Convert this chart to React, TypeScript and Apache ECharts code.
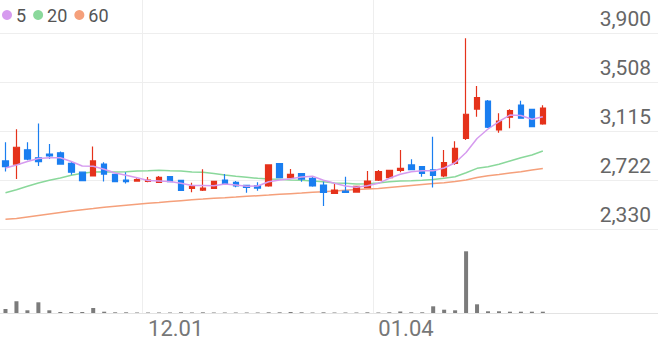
import React, { useEffect, useRef } from "react";
import * as echarts from "echarts";

// ---- data ----
const dates = [
  "11.14","11.15","11.16","11.17","11.20","11.21","11.22","11.23","11.24","11.27",
  "11.28","11.29","11.30","12.01","12.04","12.05","12.06","12.07","12.08","12.11",
  "12.12","12.13","12.14","12.15","12.18","12.19","12.20","12.21","12.22","12.26",
  "12.27","12.28","01.02","01.03","01.04","01.05","01.08","01.09","01.10","01.11",
  "01.12","01.15","01.16","01.17","01.18","01.19","01.22","01.23","01.24","01.25",
];
const emptySlots = 10;
const labeledDates = ["12.01", "01.04"];

const opens = [2875,2850,2965,2900,2930,2940,2855,2785,2755,2850,2768,2722,2714,2712,2704,2749,2720,2656,2642,2656,2722,2704,2680,2677,2675,2853,2741,2773,2736,2682,2616,2634,2626,2661,2722,2741,2800,2843,2829,2803,2755,2856,3056,3291,3355,3123,3225,3323,3289,3171];
const closes = [2830,2985,2890,2870,2915,2850,2785,2717,2875,2770,2709,2710,2725,2722,2744,2709,2640,2672,2658,2712,2690,2675,2664,2658,2843,2741,2768,2730,2675,2624,2642,2624,2672,2714,2789,2800,2816,2805,2776,2759,2861,2976,3249,3382,3145,3195,3278,3217,3150,3299];
const lows = [2790,2730,2880,2835,2890,2845,2765,2715,2750,2710,2705,2695,2709,2704,2700,2704,2634,2624,2634,2650,2685,2664,2621,2637,2669,2736,2740,2709,2669,2514,2613,2622,2620,2656,2714,2730,2784,2800,2749,2662,2744,2845,3043,3230,3139,3101,3137,3213,3145,3165];
const highs = [3025,3130,3025,3175,3010,2950,2870,2790,2990,2865,2770,2785,2736,2746,2755,2754,2725,2700,2808,2717,2770,2714,2681,2704,2845,2855,2810,2775,2755,2709,2693,2749,2674,2795,2803,2802,2963,2888,2830,3069,2963,3032,3858,3475,3363,3257,3289,3358,3294,3321];

const ma5 = [2819,2843,2871,2895,2901,2901,2871,2835,2832,2809,2779,2761,2740,2719,2715,2711,2696,2679,2679,2676,2691,2683,2672,2675,2709,2723,2733,2747,2752,2720,2696,2675,2664,2677,2696,2736,2768,2789,2797,2797,2819,2861,2943,3055,3131,3191,3243,3239,3209,3229];
const ma20 = [2621,2645,2672,2699,2720,2739,2760,2776,2787,2789,2787,2789,2795,2797,2800,2797,2795,2787,2784,2775,2763,2752,2744,2736,2731,2728,2723,2720,2715,2709,2699,2696,2691,2693,2699,2709,2715,2717,2720,2727,2736,2749,2781,2816,2829,2848,2875,2901,2923,2955];
const ma60 = [2408,2414,2426,2438,2450,2462,2474,2485,2494,2504,2512,2520,2528,2536,2542,2550,2557,2564,2570,2577,2581,2586,2592,2597,2602,2608,2613,2618,2624,2629,2634,2640,2646,2650,2654,2662,2670,2678,2686,2694,2701,2710,2722,2743,2757,2767,2779,2789,2803,2815];

// volume, thousand shares
const volumes = [40,117,27,107,27,10,10,10,50,13,7,7,5,5,5,5,7,5,7,5,5,5,5,5,7,7,10,7,5,7,5,5,5,7,5,7,15,7,7,67,33,27,617,87,17,17,13,13,13,13];

const yTickValues = [2330, 2722.5, 3115, 3507.5, 3900];
const yTickLabels = ["2,330", "2,722", "3,115", "3,508", "3,900"];

// ---- styling ----
const UP = "#e5321b";
const DOWN = "#1a7ef0";
const C5 = "#d69bef";
const C20 = "#8ad89b";
const C60 = "#f5a07b";
const FONT = "Roboto";

export default function App() {
  const ref = useRef<HTMLDivElement>(null);

  useEffect(() => {
    if (!ref.current) return;
    const chart = echarts.init(ref.current, undefined, { renderer: "svg" });

    const categories = [
      ...dates,
      ...Array.from({ length: emptySlots }, (_, i) => `pad${i}`),
    ];
    const candleData = dates.map((_, i) => [opens[i], closes[i], lows[i], highs[i]]);
    const showLabel = (_i: number, v: string) => labeledDates.includes(v);

    const priceTop = 0;
    const priceBottom = 229;
    const gridLineTop = 33; // where 3,900 sits
    const yMin = yTickValues[0];
    const yStep = yTickValues[1] - yTickValues[0];
    const yTopVal = yTickValues[yTickValues.length - 1];
    const yMax =
      yMin + ((yTopVal - yMin) * (priceBottom - priceTop)) / (priceBottom - gridLineTop);

    const volTop = 229;
    const volBottom = 313;
    const volMax = (volBottom - volTop) * 10;

    const splitX = {
      show: true,
      interval: showLabel,
      lineStyle: { color: "#eeeeee", width: 1 },
    };

    chart.setOption({
      animation: false,
      textStyle: { fontFamily: FONT },
      legend: {
        data: ["5", "20", "60"],
        left: 2,
        top: 6,
        padding: 0,
        icon: "circle",
        itemWidth: 10,
        itemHeight: 10,
        itemGap: 7,
        textStyle: { fontSize: 18, color: "#555", fontFamily: FONT, padding: [0, 0, 0, -1] },
      },
      grid: [
        { left: 0, right: 0, top: priceTop, height: priceBottom - priceTop },
        { left: 0, right: 0, top: volTop, height: volBottom - volTop },
      ],
      xAxis: [
        {
          type: "category",
          gridIndex: 0,
          data: categories,
          boundaryGap: true,
          axisLine: { show: false },
          axisTick: { show: false },
          axisLabel: { show: false },
          splitLine: splitX,
        },
        {
          type: "category",
          gridIndex: 1,
          data: categories,
          boundaryGap: true,
          axisLine: { show: true, lineStyle: { color: "#e3e3e3", width: 1 } },
          axisTick: { show: false },
          axisLabel: {
            show: true,
            interval: showLabel,
            align: "left",
            fontSize: 22,
            color: "#777",
            fontFamily: FONT,
            margin: 4,
            formatter: (v: string) => v,
          },
          splitLine: splitX,
        },
      ],
      yAxis: [
        {
          type: "value",
          gridIndex: 0,
          position: "right",
          min: yMin,
          max: yMax,
          interval: yStep,
          axisLine: { show: false },
          axisTick: { show: false },
          splitLine: {
            show: true,
            showMaxLine: false,
            lineStyle: { color: "#eeeeee", width: 1 },
          },
          axisLabel: {
            inside: true,
            margin: 7,
            showMaxLabel: false,
            fontSize: 21,
            color: "#666",
            fontFamily: FONT,
            verticalAlign: "bottom",
            padding: [0, 0, 4, 0],
            formatter: (v: number) => {
              const i = yTickValues.findIndex((t) => Math.abs(t - v) < 0.5);
              return i >= 0 ? yTickLabels[i] : "";
            },
          },
        },
        {
          type: "value",
          gridIndex: 1,
          min: 0,
          max: volMax,
          show: false,
          splitLine: { show: false },
        },
      ],
      series: [
        {
          type: "candlestick",
          xAxisIndex: 0,
          yAxisIndex: 0,
          data: candleData,
          barWidth: 6,
          itemStyle: {
            color: UP,
            color0: DOWN,
            borderColor: UP,
            borderColor0: DOWN,
            borderWidth: 1.2,
          },
          z: 3,
        },
        {
          name: "5",
          type: "line",
          data: ma5,
          symbol: "none",
          color: C5,
          lineStyle: { width: 1.5, color: C5 },
          z: 4,
        },
        {
          name: "20",
          type: "line",
          data: ma20,
          symbol: "none",
          color: C20,
          lineStyle: { width: 1.5, color: C20 },
          z: 2,
        },
        {
          name: "60",
          type: "line",
          data: ma60,
          symbol: "none",
          color: C60,
          lineStyle: { width: 1.5, color: C60 },
          z: 2,
        },
        {
          type: "bar",
          xAxisIndex: 1,
          yAxisIndex: 1,
          data: volumes,
          barWidth: 4,
          itemStyle: { color: "#7b7b7b" },
        },
      ],
    });

    return () => chart.dispose();
  }, []);

  return (
    <div
      ref={ref}
      style={{ position: "absolute", left: 0, top: 0, width: 658, height: 342 }}
    />
  );
}
